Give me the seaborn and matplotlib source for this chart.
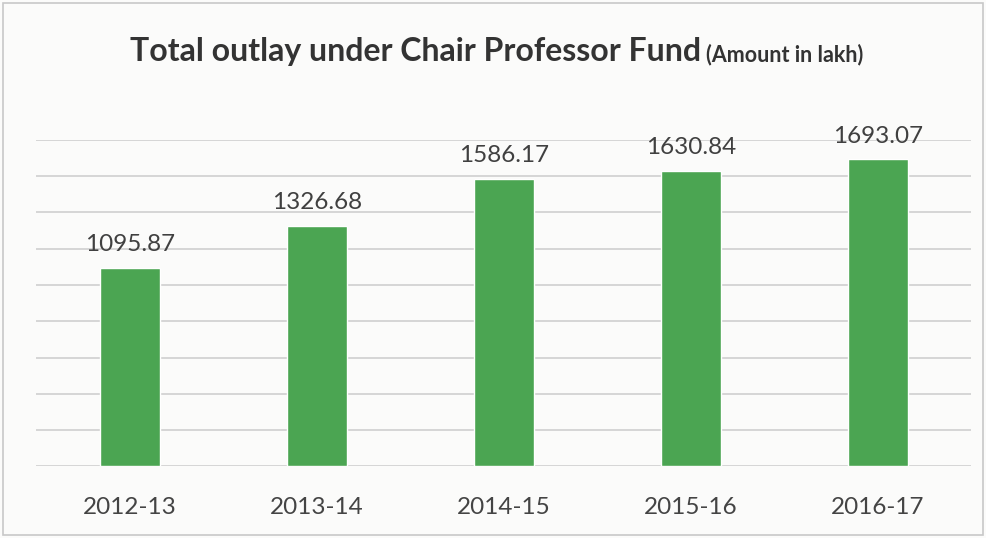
import matplotlib.pyplot as plt
import pandas as pd
import seaborn as sns

years = ["2012-13", "2013-14", "2014-15", "2015-16", "2016-17"]
outlay = [1095.87, 1326.68, 1586.17, 1630.84, 1693.07]

sns.set_theme(style="whitegrid")
plt.rcParams["font.family"] = ["Lato", "DejaVu Sans"]

df = pd.DataFrame({"year": years, "outlay": outlay})

fig = plt.figure(figsize=(9.86, 5.38), dpi=100)
fig.patch.set_facecolor("#fbfbfa")
ax = fig.add_axes([0.037, 0.133, 0.948, 0.607])
ax.set_facecolor("#fbfbfa")

sns.barplot(data=df, x="year", y="outlay", color="#4ba552", saturation=1,
            width=0.32, ax=ax)

ax.set_ylim(0, 1800)
ax.set_yticks(range(0, 1801, 200))
ax.set_yticklabels([])
ax.grid(axis="y", color="#cfcfcf", linewidth=1.2)
ax.grid(axis="x", visible=False)
for s in ax.spines.values():
    s.set_visible(False)
ax.tick_params(axis="both", length=0)
ax.tick_params(axis="x", labelsize=17.5, labelcolor="#444444", pad=22)
ax.set_xlabel("")
ax.set_ylabel("")

for i, v in enumerate(outlay):
    ax.text(i, v + 70, f"{v:.2f}", ha="center", va="bottom",
            fontsize=17.5, color="#404040")

fig.text(0.711, 0.905, "Total outlay under Chair Professor Fund", ha="right",
         va="center", fontsize=23, fontweight="bold", color="#333333")
fig.text(0.716, 0.898, "(Amount in lakh)", ha="left", va="center",
         fontsize=15.5, fontweight="bold", color="#333333")

# outer frame as in the source chart
fig.add_artist(plt.Rectangle((0.003, 0.005), 0.994, 0.99, transform=fig.transFigure,
                             fill=False, edgecolor="#c8c8c8", linewidth=1.2))

fig.savefig("out.png", dpi=100)
